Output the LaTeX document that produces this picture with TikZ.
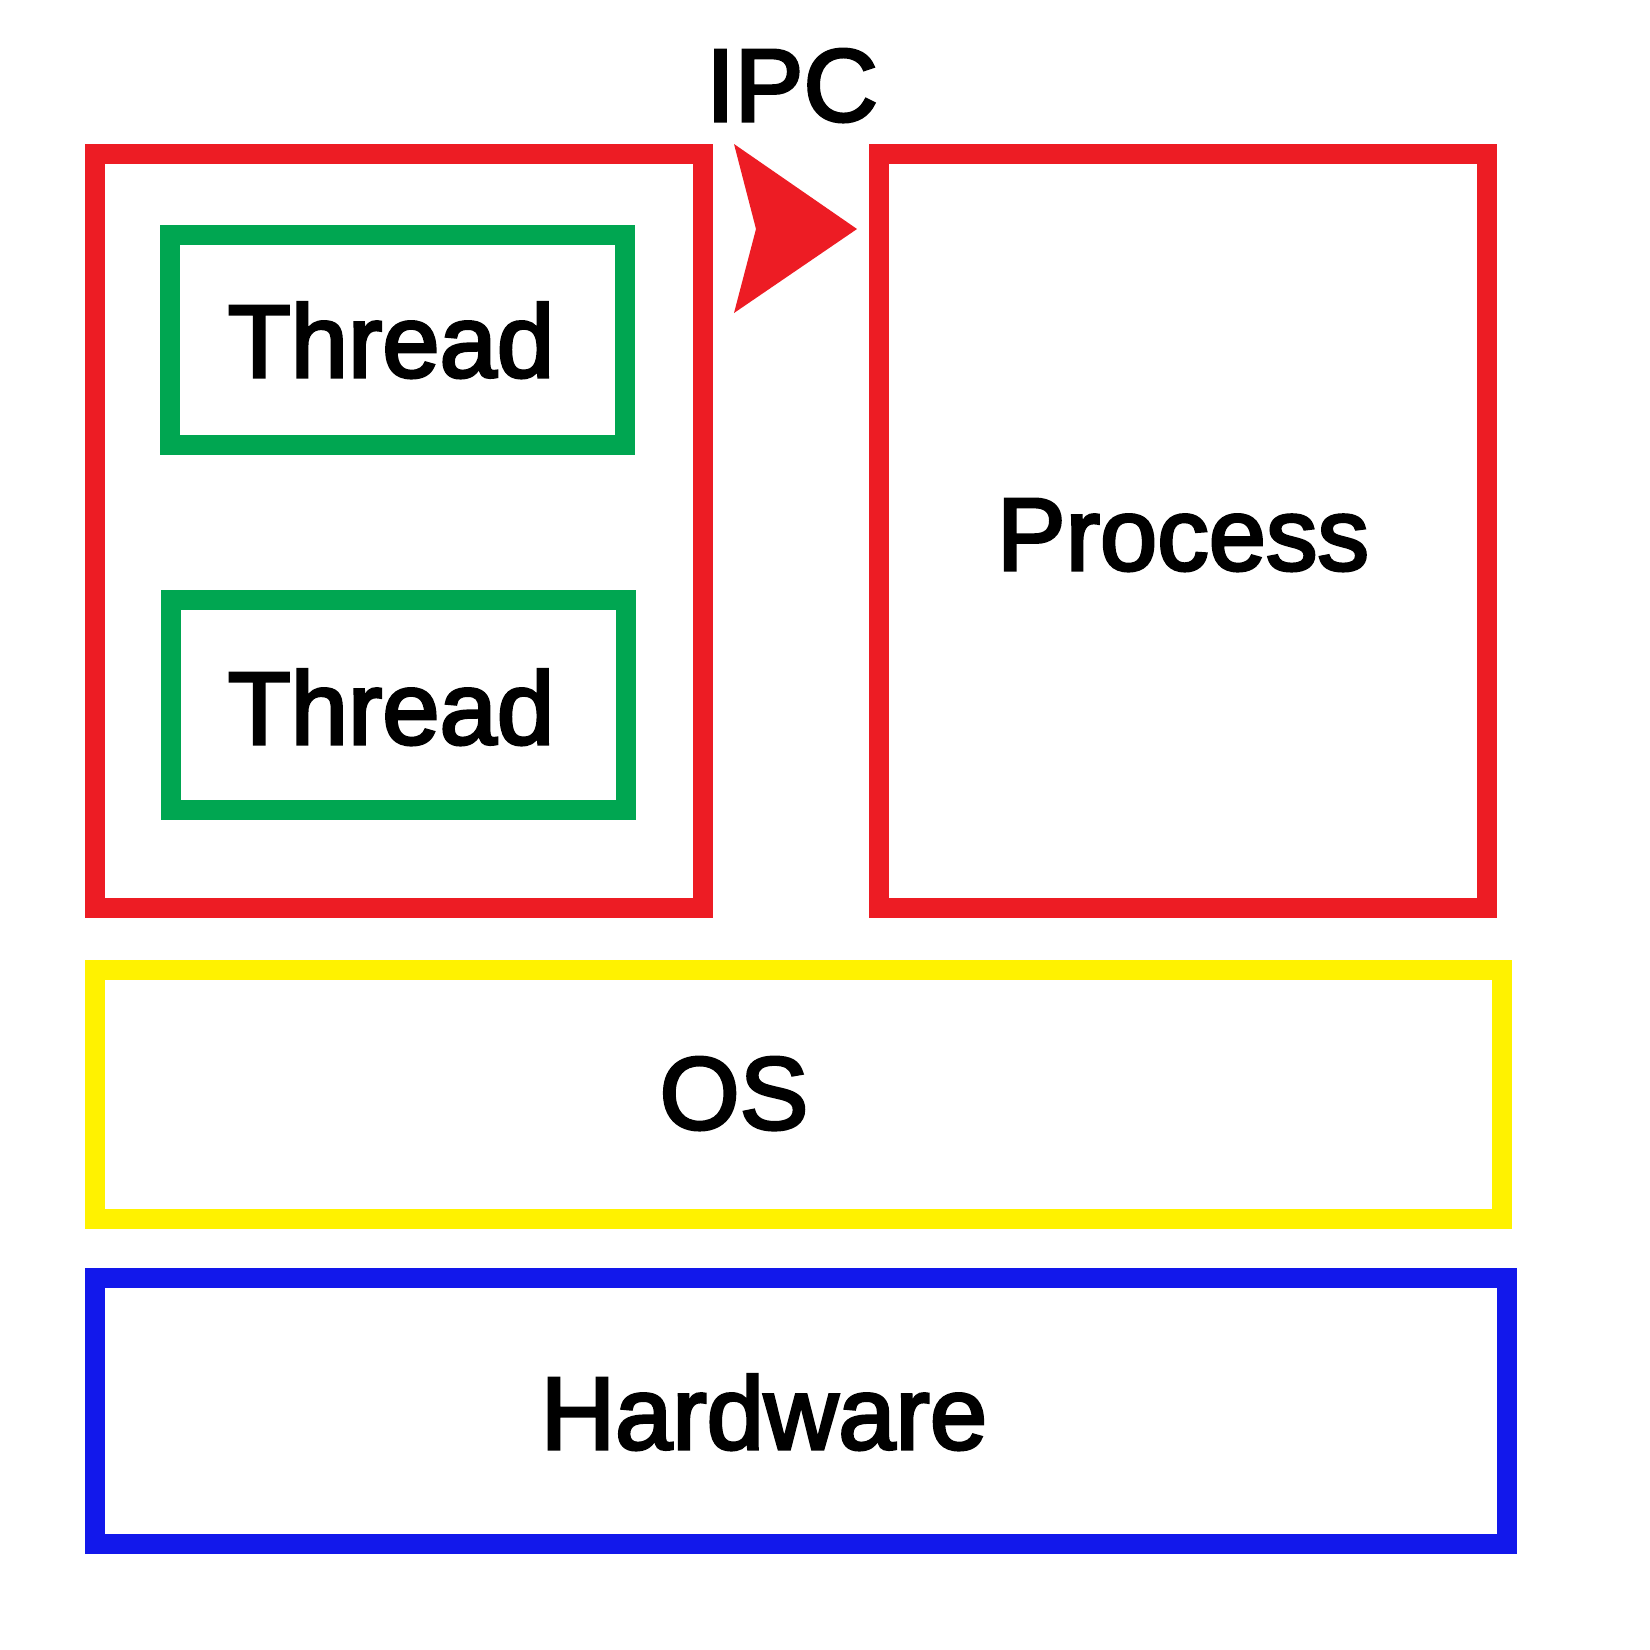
\documentclass[tikz,border=0pt]{standalone}
\usepackage{fontspec}
\setmainfont{Liberation Sans}
\newfontface\heavyface{Liberation Sans}[FakeBold=3]
\definecolor{boxred}{RGB}{237,28,36}
\definecolor{boxgreen}{RGB}{0,166,81}
\definecolor{boxyellow}{RGB}{255,242,0}
\definecolor{boxblue}{RGB}{18,24,235}
\begin{document}
\begin{tikzpicture}[x=1pt,y=-1pt,
  layer/.style={draw=#1,line width=20pt,line join=miter,inner sep=0pt},
  lbl/.style={anchor=base,inner sep=0pt,font=\heavyface\fontsize{103}{120}\selectfont}]
\useasboundingbox (0,0) rectangle (1650,1650);
\fill[white] (0,0) rectangle (1650,1650);
% boxes
\draw[layer=boxred] (95,154) rectangle (703,908);
\draw[layer=boxred] (879,154) rectangle (1487,908);
\draw[layer=boxgreen] (170,235) rectangle (625,445);
\draw[layer=boxgreen] (171,600) rectangle (626,810);
\draw[layer=boxyellow] (95,970) rectangle (1502,1219);
\draw[layer=boxblue] (95,1278) rectangle (1507,1544);
% arrow
\coordinate (atop) at (734,144);
\coordinate (anotch) at (756,229);
\coordinate (atip) at (857,229);
\coordinate (abot) at (734,313);
\fill[boxred] (atop) -- (atip) -- (abot) -- (anotch) -- cycle;
% labels
\node[lbl] (ipc) at (792,121) {IPC};
\node[lbl] (t1) at (391,377) {Thread};
\node[lbl] (t2) at (391,744) {Thread};
\node[lbl] (proc) at (1183,570) {Process};
\node[lbl] (os) at (734,1129) {OS};
\node[lbl] (hw) at (764,1449) {Hardware};
\end{tikzpicture}
\end{document}
